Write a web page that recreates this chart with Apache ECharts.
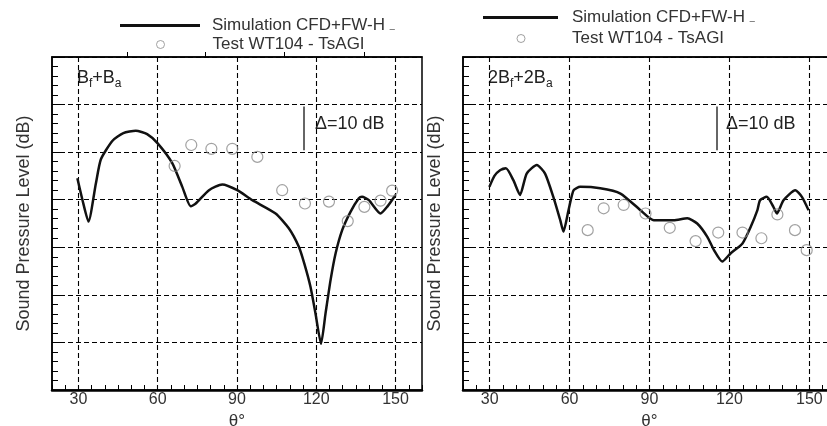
<!DOCTYPE html>
<html>
<head>
<meta charset="utf-8">
<script src="https://cdn.jsdelivr.net/npm/echarts@6/dist/echarts.min.js"></script>
<style>
  html, body { margin: 0; padding: 0; background: #fff; }
  #main { width: 827px; height: 426px; }
</style>
</head>
<body>
<div id="main"></div>
<script>
// data: [theta in deg, level in dB (relative)]
var simName = 'Simulation CFD+FW-H';
var testName = 'Test WT104 - TsAGI';

var simLeft = [
  [29.6, 44.5], [31.5, 40.0], [33.8, 35.4], [36.6, 43.4], [38.5, 48.5], [42.9, 52.4],
  [47.0, 54.0], [51.7, 54.5], [56.0, 53.8], [59.9, 51.9], [65.5, 47.7], [69.3, 42.7],
  [72.5, 38.6], [74.4, 39.2], [79.4, 42.0], [84.4, 43.2], [90.1, 42.0], [95.8, 39.9],
  [104.6, 37.1], [109.6, 34.0], [113.4, 30.1], [115.5, 26.5], [117.8, 21.7], [119.7, 16.1],
  [121.8, 9.7], [123.5, 16.1], [125.4, 23.1], [127.3, 28.7], [129.8, 33.6], [132.9, 37.4],
  [136.1, 40.3], [137.3, 40.6], [139.9, 39.9], [144.3, 37.1], [146.8, 38.5], [150.0, 41.0]
];
var testLeft = [
  [66.4, 47.1], [72.7, 51.5], [80.3, 50.7], [88.2, 50.7], [97.7, 49.0], [107.1, 42.0],
  [115.7, 39.2], [124.8, 39.6], [131.9, 35.5], [138.2, 38.5], [144.3, 39.8], [148.7, 41.9]
];
var simRight = [
  [29.9, 42.7], [31.8, 45.0], [33.9, 46.2], [36.1, 46.6], [38.9, 44.1], [41.4, 41.0],
  [43.9, 45.5], [47.7, 47.3], [50.8, 45.5], [53.9, 40.6], [56.5, 35.7], [57.7, 33.3],
  [59.6, 37.8], [61.5, 42.0], [64.0, 42.7], [71.5, 42.4], [79.1, 41.3], [86.6, 37.8],
  [91.6, 35.7], [99.1, 35.7], [104.2, 36.1], [107.9, 35.0], [111.7, 32.2], [114.2, 29.4],
  [117.3, 27.0], [120.4, 28.7], [124.9, 30.8], [128.0, 34.3], [130.5, 37.8], [131.5, 39.9],
  [134.0, 40.6], [136.5, 38.5], [137.8, 37.1], [140.3, 39.9], [144.7, 42.0], [147.2, 40.6],
  [149.7, 37.8]
];
var testRight = [
  [66.8, 33.6], [72.8, 38.2], [80.3, 38.9], [88.5, 37.1], [97.6, 34.1], [107.3, 31.3],
  [115.8, 33.1], [124.9, 33.1], [132.0, 31.9], [138.0, 36.9], [144.6, 33.6], [149.0, 29.4]
];

var thetaLabels = [30, 60, 90, 120, 150];
var topTicks = [48.4, 77.9, 107.8, 138];
var deltaX = 115.2;
var deltaRange = [50.4, 59.6];

var font = 'Liberation Sans';
var chart = echarts.init(document.getElementById('main'));

function xAxisBottom(gi) {
  return {
    gridIndex: gi, type: 'value', position: 'bottom', min: 20, max: 160, interval: 10,
    axisLine: { onZero: false, lineStyle: { color: '#000', width: 2.5 } },
    axisTick: { show: true, inside: true, length: 5, lineStyle: { color: '#000', width: 1 } },
    minorTick: { show: true, splitNumber: 2, length: 5, lineStyle: { color: '#000', width: 1 } },
    axisLabel: {
      margin: 2, fontSize: 16, color: '#333', fontFamily: font,
      formatter: function (v) { return thetaLabels.indexOf(v) >= 0 ? String(v) : ''; }
    },
    splitLine: { show: false },
    name: 'θ°', nameLocation: 'middle', nameGap: 18,
    nameTextStyle: { fontSize: 17, color: '#333', fontFamily: font }
  };
}

function xAxisTop(gi, ticks) {
  return {
    gridIndex: gi, type: 'value', position: 'top', min: 20, max: 160,
    axisLine: { onZero: false, lineStyle: { color: '#000', width: 1.5 } },
    axisTick: ticks ? { show: true, inside: false, length: 5, customValues: ticks, lineStyle: { color: '#000', width: 1 } }
                    : { show: false },
    axisLabel: ticks ? { show: true, customValues: ticks, formatter: function () { return ''; } }
                     : { show: false },
    splitLine: { show: false }
  };
}

function yAxisLeft(gi) {
  return {
    gridIndex: gi, type: 'value', min: 0, max: 70, interval: 10,
    axisLine: { show: true, lineStyle: { color: '#000', width: 1.5 } },
    axisTick: { show: true, inside: true, length: 10, lineStyle: { color: '#000', width: 1 } },
    minorTick: { show: true, splitNumber: 5, length: 6, lineStyle: { color: '#000', width: 1 } },
    axisLabel: { show: false },
    splitLine: { show: true, lineStyle: { color: '#000', type: [5, 3], width: 1.1 } },
    name: 'Sound Pressure Level (dB)', nameLocation: 'middle', nameGap: 19,
    nameTextStyle: { fontSize: 18, color: '#333', fontFamily: font }
  };
}

function gridMarks() {
  var d = thetaLabels.map(function (v) { return { xAxis: v }; });
  d.push([
    { coord: [deltaX, deltaRange[1]], lineStyle: { type: 'solid', width: 1.5, color: '#333' } },
    { coord: [deltaX, deltaRange[0]] }
  ]);
  return {
    silent: true, z: 1, symbol: ['none', 'none'], label: { show: false },
    lineStyle: { color: '#000', type: [5, 3], width: 1.1 },
    emphasis: { disabled: true },
    data: d
  };
}

function simSeries(data, xi, yi) {
  return {
    name: simName, type: 'line', xAxisIndex: xi, yAxisIndex: yi, data: data,
    symbol: 'none', smooth: 0.2, z: 3,
    lineStyle: { color: '#111', width: 2.5 }, itemStyle: { color: '#111' },
    markLine: gridMarks()
  };
}

function testSeries(data, xi, yi) {
  return {
    name: testName, type: 'scatter', xAxisIndex: xi, yAxisIndex: yi, data: data,
    symbol: 'circle', symbolSize: 11, z: 4,
    itemStyle: { color: 'rgba(0,0,0,0)', borderColor: '#8a8a8a', borderWidth: 1.2 }
  };
}

function legendLine(left, top, w, pad) {
  return {
    data: [{ name: simName, icon: 'rect' }], left: left, top: top, padding: 0,
    itemWidth: w, itemHeight: 3, selectedMode: false,
    formatter: function (n) { return n + ' {u|_}'; },
    itemStyle: { color: '#111', borderWidth: 0 },
    textStyle: {
      fontSize: 17, color: '#333', fontFamily: font, padding: [0, 0, 0, pad],
      rich: { u: { fontSize: 9, color: '#333', fontFamily: font } }
    }
  };
}

function legendDot(left, top, pad) {
  return {
    data: [{ name: testName, icon: 'circle' }], left: left, top: top, padding: 0,
    itemWidth: 8, itemHeight: 8, selectedMode: false,
    itemStyle: { color: 'rgba(0,0,0,0)', borderColor: '#8a8a8a', borderWidth: 1 },
    textStyle: { fontSize: 17, color: '#333', fontFamily: font, padding: [0, 0, 0, pad] }
  };
}

function panelLabel(left, pre) {
  return {
    type: 'text', left: left, top: 69, silent: true,
    style: {
      text: '{b|' + pre + 'B}{s|f}{b|+' + pre + 'B}{s|a}',
      rich: {
        b: { fontSize: 18, lineHeight: 24, fontFamily: font, fill: '#222', verticalAlign: 'middle' },
        s: { fontSize: 12, lineHeight: 14, fontFamily: font, fill: '#222', verticalAlign: 'bottom' }
      }
    }
  };
}

function deltaLabel(left) {
  return {
    type: 'text', left: left, top: 115, silent: true,
    style: { text: 'Δ=10 dB', fontSize: 18, fontFamily: font, fill: '#222' }
  };
}

var option = {
  animation: false,
  backgroundColor: '#fff',
  grid: [
    { left: 52, top: 57, width: 370, height: 333, outerBoundsMode: 'none', containLabel: false,
      show: true, borderColor: '#000', borderWidth: 1.5 },
    { left: 463, top: 57, width: 373, height: 333, outerBoundsMode: 'none', containLabel: false,
      show: true, borderColor: '#000', borderWidth: 1.5 }
  ],
  xAxis: [
    xAxisBottom(0),
    xAxisTop(0, topTicks),
    xAxisBottom(1),
    xAxisTop(1, null)
  ],
  yAxis: [yAxisLeft(0), yAxisLeft(1)],
  legend: [
    legendLine(120, 17, 80, 7),
    legendDot(156, 36, 43),
    legendLine(483, 9, 75, 9),
    legendDot(516.5, 30, 42)
  ],
  graphic: [
    panelLabel(77, ''),
    panelLabel(488, '2'),
    deltaLabel(315),
    deltaLabel(726)
  ],
  series: [
    simSeries(simLeft, 0, 0),
    testSeries(testLeft, 0, 0),
    simSeries(simRight, 2, 1),
    testSeries(testRight, 2, 1)
  ]
};

chart.setOption(option);
</script>
</body>
</html>
